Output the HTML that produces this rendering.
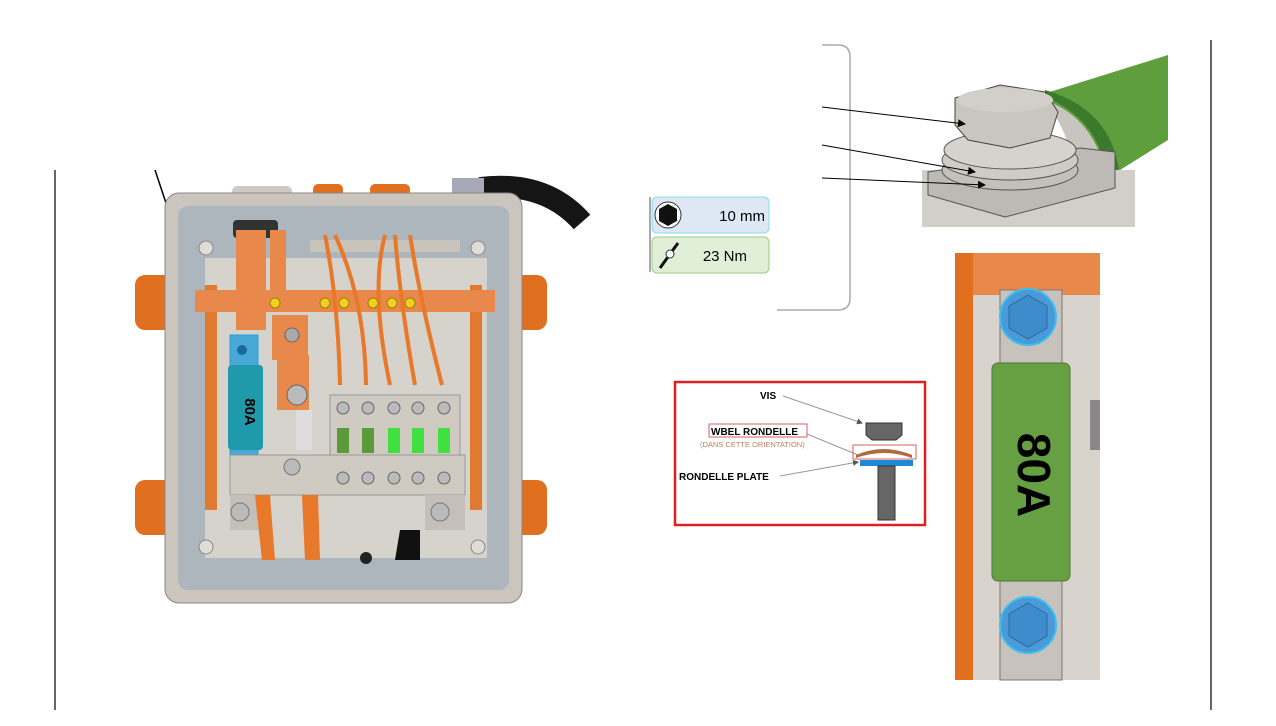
<!DOCTYPE html>
<html><head><meta charset="utf-8"><style>
html,body{margin:0;padding:0;background:#fff;}
svg{display:block;font-family:"Liberation Sans",sans-serif;}
</style></head><body>
<svg width="1276" height="726" viewBox="0 0 1276 726" xmlns="http://www.w3.org/2000/svg">
<defs>
<marker id="ar" markerWidth="8" markerHeight="8" refX="7" refY="4" orient="auto"><path d="M0,0 L8,4 L0,8z" fill="#000"/></marker>
<marker id="ag" markerWidth="6" markerHeight="6" refX="5" refY="3" orient="auto"><path d="M0,0 L6,3 L0,6z" fill="#555"/></marker>
</defs>
<rect width="1276" height="726" fill="#fff"/>
<line x1="55" y1="170" x2="55" y2="710" stroke="#000" stroke-width="1.2"/>
<line x1="1211" y1="40" x2="1211" y2="710" stroke="#000" stroke-width="1.2"/>
<line x1="155" y1="170" x2="166" y2="203" stroke="#000" stroke-width="1.5"/>

<!-- enclosure -->
<path d="M480,188 Q545,180 582,222" fill="none" stroke="#151515" stroke-width="22"/>
<rect x="452" y="178" width="32" height="16" fill="#a8a8b8"/>
<rect x="232" y="186" width="60" height="12" rx="5" fill="#cfcac4"/>
<rect x="313" y="184" width="30" height="12" rx="5" fill="#e07020"/>
<rect x="370" y="184" width="40" height="12" rx="5" fill="#e07020"/>
<rect x="135" y="275" width="40" height="55" rx="10" fill="#e07020"/>
<rect x="135" y="480" width="40" height="55" rx="10" fill="#e07020"/>
<rect x="512" y="275" width="35" height="55" rx="10" fill="#e07020"/>
<rect x="512" y="480" width="35" height="55" rx="10" fill="#e07020"/>
<rect x="165" y="193" width="357" height="410" rx="14" fill="#cbc5bd" stroke="#888" stroke-width="1"/>
<rect x="178" y="206" width="331" height="384" rx="10" fill="#aeb6bd"/>
<rect x="205" y="258" width="282" height="300" fill="#d6d2cc"/>
<rect x="233" y="220" width="45" height="18" rx="4" fill="#333"/>
<rect x="310" y="240" width="150" height="12" fill="#c8c4bc"/>
<rect x="205" y="285" width="12" height="225" fill="#e07a30"/>
<rect x="470" y="285" width="12" height="225" fill="#e07a30"/>
<rect x="195" y="290" width="300" height="22" fill="#e8884a"/>
<rect x="236" y="230" width="30" height="100" fill="#e8884a"/>
<rect x="270" y="230" width="16" height="60" fill="#e8884a"/>
<rect x="272" y="315" width="36" height="45" fill="#e8884a"/>
<rect x="277" y="355" width="32" height="55" fill="#e8884a"/>
<circle cx="292" cy="335" r="7" fill="#aaa" stroke="#666"/>
<circle cx="297" cy="395" r="10" fill="#bbb" stroke="#666"/>
<rect x="296" y="410" width="16" height="40" fill="#ddd"/>
<rect x="230" y="335" width="28" height="145" fill="#4aa8d8" stroke="#2aa0e0"/>
<rect x="228" y="365" width="35" height="85" rx="4" fill="#1f9aaa"/>
<text x="245" y="412" font-size="15" font-weight="bold" transform="rotate(90 245 412)" text-anchor="middle" fill="#000">80A</text>
<circle cx="242" cy="350" r="5" fill="#1a6a9a"/>
<circle cx="242" cy="467" r="5" fill="#1a6a9a"/>
<rect x="330" y="395" width="130" height="100" fill="#cfcac2" stroke="#999"/>
<rect x="230" y="455" width="235" height="40" fill="#cfcac2" stroke="#999"/>
<rect x="230" y="495" width="35" height="35" fill="#c4bfb8"/>
<rect x="425" y="495" width="40" height="35" fill="#c4bfb8"/>
<circle cx="240" cy="512" r="9" fill="#bbb" stroke="#777"/>
<circle cx="440" cy="512" r="9" fill="#bbb" stroke="#777"/>
<circle cx="292" cy="467" r="8" fill="#bbb" stroke="#777"/>
<g fill="#5a9a3a"><rect x="337" y="428" width="12" height="25"/><rect x="362" y="428" width="12" height="25"/></g>
<g fill="#40e040"><rect x="388" y="428" width="12" height="25"/><rect x="412" y="428" width="12" height="25"/><rect x="438" y="428" width="12" height="25"/></g>
<g fill="#bbb" stroke="#666"><circle cx="343" cy="408" r="6"/><circle cx="368" cy="408" r="6"/><circle cx="394" cy="408" r="6"/><circle cx="418" cy="408" r="6"/><circle cx="444" cy="408" r="6"/>
<circle cx="343" cy="478" r="6"/><circle cx="368" cy="478" r="6"/><circle cx="394" cy="478" r="6"/><circle cx="418" cy="478" r="6"/><circle cx="444" cy="478" r="6"/></g>
<g stroke="#e8782a" stroke-width="4" fill="none">
<path d="M325,235 Q338,300 340,385"/><path d="M335,235 Q365,300 366,385"/>
<path d="M385,235 Q370,290 390,385"/><path d="M395,235 Q400,300 415,385"/><path d="M410,235 Q420,300 442,385"/></g>
<g fill="#f0d020" stroke="#a08000"><circle cx="275" cy="303" r="5"/><circle cx="325" cy="303" r="5"/><circle cx="344" cy="303" r="5"/><circle cx="373" cy="303" r="5"/><circle cx="392" cy="303" r="5"/><circle cx="410" cy="303" r="5"/></g>
<path d="M255,495 L262,560 L275,560 L270,495z" fill="#e8782a"/>
<path d="M302,495 L305,560 L320,560 L318,495z" fill="#e8782a"/>
<path d="M400,530 h20 v30 h-25z" fill="#111"/>
<circle cx="366" cy="558" r="6" fill="#222"/>
<g fill="#e0dcd6" stroke="#888"><circle cx="206" cy="248" r="7"/><circle cx="478" cy="248" r="7"/><circle cx="206" cy="547" r="7"/><circle cx="478" cy="547" r="7"/></g>

<!-- tool boxes -->
<line x1="650" y1="197" x2="650" y2="272" stroke="#aaa" stroke-width="2"/>
<rect x="652" y="197" width="117" height="36" rx="5" fill="#dde8f4" stroke="#7fe0f0"/>
<circle cx="668" cy="215" r="13" fill="#fff" stroke="#333"/>
<polygon points="668,204 677,209 677,221 668,226 659,221 659,209" fill="#111"/>
<text x="765" y="221" font-size="15" text-anchor="end">10 mm</text>
<rect x="652" y="237" width="117" height="36" rx="5" fill="#e2efd8" stroke="#9ccc80"/>
<line x1="660" y1="268" x2="678" y2="243" stroke="#111" stroke-width="3"/>
<circle cx="670" cy="254" r="4" fill="#fff" stroke="#333"/>
<text x="747" y="261" font-size="15" text-anchor="end">23 Nm</text>
<path d="M822,45 H838 Q850,45 850,57 V298 Q850,310 838,310 H777" fill="none" stroke="#aaa" stroke-width="1.5"/>

<!-- top right render -->
<path d="M1040,95 L1168,55 L1168,140 L1120,170 L1080,150z" fill="#5e9e3c"/>
<path d="M1045,90 q70,20 75,90 l-12,5 q-5,-65 -63,-88z" fill="#3a7a2a"/>
<path d="M1045,100 q55,20 63,88 l-30,0 q-5,-50 -33,-88z" fill="#c8c4bf"/>
<rect x="922" y="170" width="213" height="57" fill="#d2cec9"/>
<polygon points="928,172 1080,148 1115,152 1115,188 1005,217 928,195" fill="#bdb9b4" stroke="#555"/>
<ellipse cx="1010" cy="170" rx="68" ry="20" fill="#c4c0ba" stroke="#555"/>
<ellipse cx="1010" cy="160" rx="68" ry="20" fill="#cfcbc6" stroke="#555"/>
<ellipse cx="1010" cy="150" rx="66" ry="19" fill="#d6d2cd" stroke="#555"/>
<polygon points="955,98 1000,85 1045,92 1058,112 1050,138 1010,148 968,140 955,125" fill="#c9c5bf" stroke="#444"/>
<ellipse cx="1005" cy="100" rx="48" ry="12" fill="#d2cec9"/>
<line x1="822" y1="107" x2="965" y2="124" stroke="#000" marker-end="url(#ar)"/>
<line x1="822" y1="145" x2="975" y2="172" stroke="#000" marker-end="url(#ar)"/>
<line x1="822" y1="178" x2="985" y2="185" stroke="#000" marker-end="url(#ar)"/>

<!-- red box -->
<rect x="675" y="382" width="250" height="143" fill="#fff" stroke="#e02020" stroke-width="2.5"/>
<text x="760" y="399" font-size="10" font-weight="bold">VIS</text>
<line x1="783" y1="396" x2="862" y2="423" stroke="#999" marker-end="url(#ag)"/>
<rect x="709" y="424" width="98" height="13" fill="none" stroke="#d06060"/>
<text x="711" y="435" font-size="10" font-weight="bold">WBEL RONDELLE</text>
<text x="700" y="447" font-size="7.5" fill="#c08060">(DANS CETTE ORIENTATION)</text>
<line x1="807" y1="434" x2="858" y2="455" stroke="#999"/>
<text x="679" y="480" font-size="10" font-weight="bold">RONDELLE PLATE</text>
<line x1="780" y1="476" x2="858" y2="462" stroke="#999" marker-end="url(#ag)"/>
<path d="M866,423 h36 v12 l-6,5 h-24 l-6,-5z" fill="#666" stroke="#333"/>
<rect x="853" y="445" width="63" height="14" fill="none" stroke="#d06060"/>
<path d="M856,455 q28,-12 56,0 l0,3 q-28,-10 -56,0z" fill="#b06a40"/>
<rect x="860" y="460" width="53" height="6" fill="#1c8ad8"/>
<rect x="878" y="466" width="17" height="54" fill="#666" stroke="#333"/>

<!-- bottom right render -->
<rect x="955" y="253" width="145" height="427" fill="#d8d3cd"/>
<rect x="955" y="253" width="18" height="427" fill="#e07020"/>
<rect x="973" y="253" width="127" height="42" fill="#e8884a"/>
<rect x="1000" y="290" width="62" height="80" fill="#c7c2bb" stroke="#777"/>
<rect x="1000" y="580" width="62" height="100" fill="#c7c2bb" stroke="#777"/>
<rect x="1090" y="400" width="10" height="50" fill="#888"/>
<rect x="992" y="363" width="78" height="218" rx="6" fill="#66a043" stroke="#4a7a30"/>
<text x="1030" y="475" font-size="46" font-weight="bold" transform="rotate(90 1030 475)" text-anchor="middle" dominant-baseline="middle" fill="#000">80A</text>
<circle cx="1028" cy="317" r="28" fill="#4a9ad8" stroke="#3ac0f0" stroke-width="2"/>
<polygon points="1028,295 1047,306 1047,328 1028,339 1009,328 1009,306" fill="#3f8ccc" stroke="#2a6aa0"/>
<circle cx="1028" cy="625" r="28" fill="#4a9ad8" stroke="#3ac0f0" stroke-width="2"/>
<polygon points="1028,603 1047,614 1047,636 1028,647 1009,636 1009,614" fill="#3f8ccc" stroke="#2a6aa0"/>
</svg>
</body></html>
